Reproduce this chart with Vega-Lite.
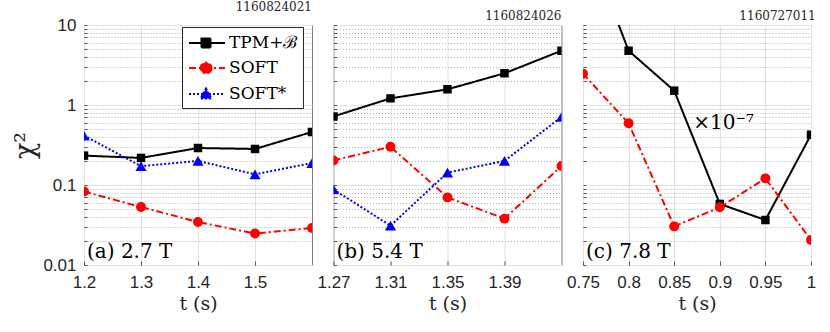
{
  "$schema": "https://vega.github.io/schema/vega-lite/v6.json",
  "padding": {"left": 11, "top": 0, "right": 5, "bottom": 5},
  "bounds": "flush",
  "spacing": 21.5,
  "datasets": {
    "d": [
      {"panel": "a", "t": 1.2, "series": "TPM+ℬ", "chi2": 0.233},
      {"panel": "a", "t": 1.3, "series": "TPM+ℬ", "chi2": 0.218},
      {"panel": "a", "t": 1.4, "series": "TPM+ℬ", "chi2": 0.29},
      {"panel": "a", "t": 1.5, "series": "TPM+ℬ", "chi2": 0.282},
      {"panel": "a", "t": 1.6, "series": "TPM+ℬ", "chi2": 0.46},
      {"panel": "a", "t": 1.2, "series": "SOFT", "chi2": 0.083},
      {"panel": "a", "t": 1.3, "series": "SOFT", "chi2": 0.053},
      {"panel": "a", "t": 1.4, "series": "SOFT", "chi2": 0.0345},
      {"panel": "a", "t": 1.5, "series": "SOFT", "chi2": 0.0247},
      {"panel": "a", "t": 1.6, "series": "SOFT", "chi2": 0.029},
      {"panel": "a", "t": 1.2, "series": "SOFT*", "chi2": 0.415},
      {"panel": "a", "t": 1.3, "series": "SOFT*", "chi2": 0.172},
      {"panel": "a", "t": 1.4, "series": "SOFT*", "chi2": 0.2},
      {"panel": "a", "t": 1.5, "series": "SOFT*", "chi2": 0.136},
      {"panel": "a", "t": 1.6, "series": "SOFT*", "chi2": 0.188},
      {"panel": "b", "t": 1.27, "series": "TPM+ℬ", "chi2": 0.72},
      {"panel": "b", "t": 1.31, "series": "TPM+ℬ", "chi2": 1.21},
      {"panel": "b", "t": 1.35, "series": "TPM+ℬ", "chi2": 1.57},
      {"panel": "b", "t": 1.39, "series": "TPM+ℬ", "chi2": 2.49},
      {"panel": "b", "t": 1.43, "series": "TPM+ℬ", "chi2": 4.77},
      {"panel": "b", "t": 1.27, "series": "SOFT", "chi2": 0.203},
      {"panel": "b", "t": 1.31, "series": "SOFT", "chi2": 0.3},
      {"panel": "b", "t": 1.35, "series": "SOFT", "chi2": 0.07},
      {"panel": "b", "t": 1.39, "series": "SOFT", "chi2": 0.038},
      {"panel": "b", "t": 1.43, "series": "SOFT", "chi2": 0.173},
      {"panel": "b", "t": 1.27, "series": "SOFT*", "chi2": 0.088},
      {"panel": "b", "t": 1.31, "series": "SOFT*", "chi2": 0.031},
      {"panel": "b", "t": 1.35, "series": "SOFT*", "chi2": 0.143},
      {"panel": "b", "t": 1.39, "series": "SOFT*", "chi2": 0.2},
      {"panel": "b", "t": 1.43, "series": "SOFT*", "chi2": 0.71},
      {"panel": "c", "t": 0.75, "series": "TPM+ℬ", "chi2": 144},
      {"panel": "c", "t": 0.8, "series": "TPM+ℬ", "chi2": 4.77},
      {"panel": "c", "t": 0.85, "series": "TPM+ℬ", "chi2": 1.51},
      {"panel": "c", "t": 0.9, "series": "TPM+ℬ", "chi2": 0.058},
      {"panel": "c", "t": 0.95, "series": "TPM+ℬ", "chi2": 0.0365},
      {"panel": "c", "t": 1.0, "series": "TPM+ℬ", "chi2": 0.425},
      {"panel": "c", "t": 0.75, "series": "SOFT", "chi2": 2.46},
      {"panel": "c", "t": 0.8, "series": "SOFT", "chi2": 0.59},
      {"panel": "c", "t": 0.85, "series": "SOFT", "chi2": 0.0304},
      {"panel": "c", "t": 0.9, "series": "SOFT", "chi2": 0.0526},
      {"panel": "c", "t": 0.95, "series": "SOFT", "chi2": 0.121},
      {"panel": "c", "t": 1.0, "series": "SOFT", "chi2": 0.0205}
    ],
    "labels": [
      {"panel": "a", "cond": "(a) 2.7 T", "note": ""},
      {"panel": "b", "cond": "(b) 5.4 T", "note": ""},
      {"panel": "c", "cond": "(c) 7.8 T", "note": "×10⁻⁷"}
    ]
  },
  "config": {
    "view": {"stroke": "#808080", "strokeWidth": 1},
    "axis": {
      "domain": false,
      "ticks": true,
      "tickColor": "#555555",
      "tickWidth": 1,
      "labelFont": "Liberation Sans",
      "labelFontSize": 17,
      "labelColor": "#262626",
      "titleFont": "DejaVu Serif",
      "titleFontWeight": "normal",
      "titleColor": "#262626",
      "grid": true
    },
    "axisX": {
      "gridColor": "#e3e3e3",
      "gridWidth": 1,
      "tickSize": -4,
      "labelPadding": 13,
      "titleFontSize": 19,
      "titlePadding": 4,
      "format": "~g",
      "labelFlush": false
    },
    "axisY": {
      "values": [0.01,0.02,0.03,0.04,0.05,0.06,0.07,0.08,0.09,0.1,0.2,0.3,0.4,0.5,0.6,0.7,0.8,0.9,1,2,3,4,5,6,7,8,9,10],
      "labelExpr": "indexof([0.01,0.1,1,10], datum.value) >= 0 ? format(datum.value, '~g') : ''",
      "gridDash": {"condition": {"test": "indexof([0.01,0.1,1,10], datum.value) >= 0", "value": []}, "value": [1, 2]},
      "gridColor": {"condition": {"test": "indexof([0.01,0.1,1,10], datum.value) >= 0", "value": "#e3e3e3"}, "value": "#b4b4b4"},
      "tickSize": -3,
      "labelPadding": 11,
      "titleFontSize": 27,
      "titlePadding": 3
    },
    "title": {"font": "DejaVu Serif", "fontSize": 12, "fontWeight": "normal", "anchor": "end", "offset": 2, "color": "#262626"}
  },
  "resolve": {"legend": {"color": "independent", "strokeDash": "independent"}},
  "hconcat": [
    {
      "width": 228, "height": 240,
      "title": "1160824021",
      "layer": [
        {
          "data": {"name": "d"},
          "transform": [{"filter": "datum.panel == 'a'"}],
          "mark": {"type": "line", "strokeWidth": 2, "clip": true},
          "encoding": {
            "x": {"field": "t", "type": "quantitative", "scale": {"domain": [1.2, 1.6], "nice": false, "zero": false}, "axis": {"values": [1.2, 1.3, 1.4, 1.5], "title": "t (s)"}},
            "y": {"field": "chi2", "type": "quantitative", "scale": {"type": "log", "domain": [0.01, 10], "nice": false}, "axis": {"title": "χ²"}},
            "color": {"field": "series", "type": "nominal", "scale": {"domain": ["TPM+ℬ", "SOFT", "SOFT*"], "range": ["#000000", "#ff0000", "#0000ff"]},
              "legend": {
                "title": null, "orient": "none", "legendX": 98, "legendY": 2,
                "fillColor": "white", "strokeColor": "#262626", "padding": 5,
                "labelFont": "DejaVu Serif", "labelFontSize": 17, "labelColor": "black",
                "symbolSize": 400, "labelOffset": 20, "rowPadding": 5,
                "encode": {"symbols": {"update": {
                  "shape": {"signal": "datum.value == 'SOFT' ? 'M-0.9,0H2.7M1.35,0A0.55,0.55,0,1,1,0.25,0A0.55,0.55,0,1,1,1.35,0Z' : datum.value == 'SOFT*' ? 'M-0.9,0H2.7M0.8,-0.55L1.35,0.45H0.25Z' : 'M-0.9,0H2.7M0.35,-0.45H1.25V0.45H0.35Z'"},
                  "fill": {"signal": "datum.value == 'SOFT' ? '#ff0000' : datum.value == 'SOFT*' ? '#0000ff' : '#000000'"},
                  "stroke": {"signal": "datum.value == 'SOFT' ? '#ff0000' : datum.value == 'SOFT*' ? '#0000ff' : '#000000'"},
                  "strokeDash": {"signal": "datum.value == 'SOFT' ? [7,3,2,3] : datum.value == 'SOFT*' ? [2,2] : [1,0]"},
                  "strokeWidth": {"value": 2},
                  "opacity": {"value": 1},
                  "fillOpacity": {"value": 1}
                }}}
              }},
            "strokeDash": {"field": "series", "type": "nominal", "scale": {"domain": ["TPM+ℬ", "SOFT", "SOFT*"], "range": [[1, 0], [7, 3, 2, 3], [2, 2]]}, "legend": null}
          }
        },
        {
          "data": {"name": "d"},
          "transform": [{"filter": "datum.panel == 'a'"}],
          "mark": {"type": "point", "filled": true, "opacity": 1, "clip": true},
          "encoding": {
            "x": {"field": "t", "type": "quantitative"},
            "y": {"field": "chi2", "type": "quantitative"},
            "color": {"field": "series", "type": "nominal", "legend": null},
            "shape": {"field": "series", "type": "nominal", "scale": {"domain": ["TPM+ℬ", "SOFT", "SOFT*"], "range": ["square", "circle", "triangle-up"]}, "legend": null},
            "size": {"field": "series", "type": "nominal", "scale": {"domain": ["TPM+ℬ", "SOFT", "SOFT*"], "range": [72, 125, 120]}, "legend": null}
          }
        },
        {
          "data": {"name": "labels"},
          "transform": [{"filter": "datum.panel == 'a'"}],
          "mark": {"type": "text", "font": "DejaVu Serif", "fontSize": 20, "align": "left", "baseline": "alphabetic", "dx": 3, "dy": -7, "color": "black"},
          "encoding": {"x": {"datum": 1.2}, "y": {"datum": 0.01}, "text": {"field": "cond"}}
        }
      ]
    },
    {
      "width": 228, "height": 240,
      "title": "1160824026",
      "layer": [
        {
          "data": {"name": "d"},
          "transform": [{"filter": "datum.panel == 'b'"}],
          "mark": {"type": "line", "strokeWidth": 2, "clip": true},
          "encoding": {
            "x": {"field": "t", "type": "quantitative", "scale": {"domain": [1.27, 1.43], "nice": false, "zero": false}, "axis": {"values": [1.27, 1.31, 1.35, 1.39], "title": "t (s)"}},
            "y": {"field": "chi2", "type": "quantitative", "scale": {"type": "log", "domain": [0.01, 10], "nice": false}, "axis": {"title": null, "labels": false}},
            "color": {"field": "series", "type": "nominal", "scale": {"domain": ["TPM+ℬ", "SOFT", "SOFT*"], "range": ["#000000", "#ff0000", "#0000ff"]}, "legend": null},
            "strokeDash": {"field": "series", "type": "nominal", "scale": {"domain": ["TPM+ℬ", "SOFT", "SOFT*"], "range": [[1, 0], [7, 3, 2, 3], [2, 2]]}, "legend": null}
          }
        },
        {
          "data": {"name": "d"},
          "transform": [{"filter": "datum.panel == 'b'"}],
          "mark": {"type": "point", "filled": true, "opacity": 1, "clip": true},
          "encoding": {
            "x": {"field": "t", "type": "quantitative"},
            "y": {"field": "chi2", "type": "quantitative"},
            "color": {"field": "series", "type": "nominal", "legend": null},
            "shape": {"field": "series", "type": "nominal", "scale": {"domain": ["TPM+ℬ", "SOFT", "SOFT*"], "range": ["square", "circle", "triangle-up"]}, "legend": null},
            "size": {"field": "series", "type": "nominal", "scale": {"domain": ["TPM+ℬ", "SOFT", "SOFT*"], "range": [72, 125, 120]}, "legend": null}
          }
        },
        {
          "data": {"name": "labels"},
          "transform": [{"filter": "datum.panel == 'b'"}],
          "mark": {"type": "text", "font": "DejaVu Serif", "fontSize": 20, "align": "left", "baseline": "alphabetic", "dx": 3, "dy": -7, "color": "black"},
          "encoding": {"x": {"datum": 1.27}, "y": {"datum": 0.01}, "text": {"field": "cond"}}
        }
      ]
    },
    {
      "width": 228, "height": 240,
      "title": "1160727011",
      "layer": [
        {
          "data": {"name": "d"},
          "transform": [{"filter": "datum.panel == 'c'"}],
          "mark": {"type": "line", "strokeWidth": 2, "clip": true},
          "encoding": {
            "x": {"field": "t", "type": "quantitative", "scale": {"domain": [0.75, 1.0], "nice": false, "zero": false}, "axis": {"values": [0.75, 0.8, 0.85, 0.9, 0.95, 1.0], "title": "t (s)"}},
            "y": {"field": "chi2", "type": "quantitative", "scale": {"type": "log", "domain": [0.01, 10], "nice": false}, "axis": {"title": null, "labels": false}},
            "color": {"field": "series", "type": "nominal", "scale": {"domain": ["TPM+ℬ", "SOFT", "SOFT*"], "range": ["#000000", "#ff0000", "#0000ff"]}, "legend": null},
            "strokeDash": {"field": "series", "type": "nominal", "scale": {"domain": ["TPM+ℬ", "SOFT", "SOFT*"], "range": [[1, 0], [7, 3, 2, 3], [2, 2]]}, "legend": null}
          }
        },
        {
          "data": {"name": "d"},
          "transform": [{"filter": "datum.panel == 'c'"}],
          "mark": {"type": "point", "filled": true, "opacity": 1, "clip": true},
          "encoding": {
            "x": {"field": "t", "type": "quantitative"},
            "y": {"field": "chi2", "type": "quantitative"},
            "color": {"field": "series", "type": "nominal", "legend": null},
            "shape": {"field": "series", "type": "nominal", "scale": {"domain": ["TPM+ℬ", "SOFT", "SOFT*"], "range": ["square", "circle", "triangle-up"]}, "legend": null},
            "size": {"field": "series", "type": "nominal", "scale": {"domain": ["TPM+ℬ", "SOFT", "SOFT*"], "range": [72, 125, 120]}, "legend": null}
          }
        },
        {
          "data": {"name": "labels"},
          "transform": [{"filter": "datum.panel == 'c'"}],
          "mark": {"type": "text", "font": "DejaVu Serif", "fontSize": 20, "align": "left", "baseline": "alphabetic", "dx": 3, "dy": -7, "color": "black"},
          "encoding": {"x": {"datum": 0.75}, "y": {"datum": 0.01}, "text": {"field": "cond"}}
        },
        {
          "data": {"name": "labels"},
          "transform": [{"filter": "datum.panel == 'c'"}],
          "mark": {"type": "text", "font": "DejaVu Serif", "fontSize": 20, "align": "left", "baseline": "middle", "color": "black"},
          "encoding": {"x": {"datum": 0.871}, "y": {"datum": 0.6}, "text": {"field": "note"}}
        }
      ]
    }
  ]
}
